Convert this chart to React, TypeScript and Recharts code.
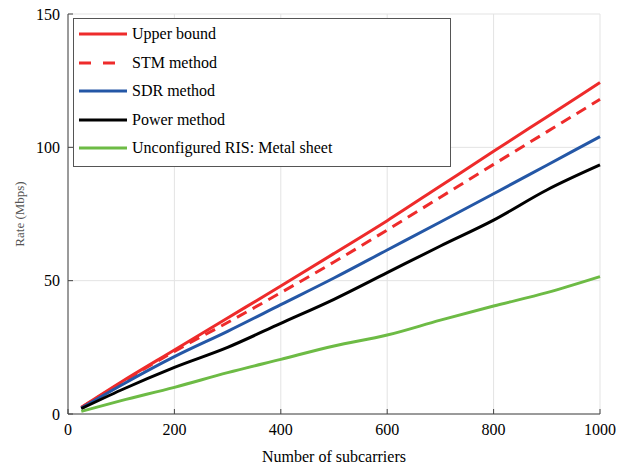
import React from 'react';
import { LineChart, Line, XAxis, YAxis, CartesianGrid, Legend } from 'recharts';

const subcarriers = [25, 100, 200, 300, 400, 500, 600, 700, 800, 900, 1000];
const upperBound = [2.5, 12, 24, 36, 48, 60.2, 72.5, 85.5, 98.5, 111.4, 124.3];
const stmMethod = [2.4, 11.7, 23.5, 34.3, 45.5, 57, 69, 81.3, 93.6, 105.8, 118];
const sdrMethod = [2.2, 10.8, 21.5, 31, 41, 51, 61.5, 72, 82.6, 93.3, 104];
const powerMethod = [2.0, 9.0, 17.5, 25, 34, 43, 53, 63, 72.7, 84, 93.4];
const metalSheet = [1.0, 5.0, 10.0, 15.5, 20.5, 25.5, 29.6, 35.2, 40.5, 45.5, 51.5];

const xTicks = [0, 200, 400, 600, 800, 1000];
const yTicks = [0, 50, 100, 150];

const seriesNames = ['Upper bound', 'STM method', 'SDR method', 'Power method', 'Unconfigured RIS: Metal sheet'];
const seriesKeys = ['ub', 'stm', 'sdr', 'pow', 'metal'];
const seriesColors = ['#ee2b2b', '#ee2b2b', '#2457a6', '#000000', '#6dbb45'];
const seriesDash = ['', '11 7', '', '', ''];

const data = subcarriers.map((x, i) => ({
  x,
  ub: upperBound[i],
  stm: stmMethod[i],
  sdr: sdrMethod[i],
  pow: powerMethod[i],
  metal: metalSheet[i],
}));

const FONT = '"Liberation Serif", "Times New Roman", serif';
const AXIS = '#444444';

const XTick = (props: any) => {
  const { x, y, payload } = props;
  return (
    <text x={x} y={y} dy="0.71em" textAnchor="middle" fill="#000" fontFamily={FONT} fontSize={16}>
      {payload.value}
    </text>
  );
};

const YTick = (props: any) => {
  const { x, y, payload } = props;
  return (
    <text x={x} y={y} dy="0.355em" textAnchor="end" fill="#000" fontFamily={FONT} fontSize={16}>
      {payload.value}
    </text>
  );
};

const LegendBox = () => (
  <div
    style={{
      width: 378,
      height: 149,
      border: '1px solid #555',
      background: '#fff',
      boxSizing: 'border-box',
      fontFamily: FONT,
      fontSize: 16,
      color: '#000',
      position: 'relative',
    }}
  >
    {seriesNames.map((name, i) => (
      <div
        key={name}
        style={{ position: 'absolute', left: 4, top: 15 + i * 28.5 - 10, height: 20, display: 'flex', alignItems: 'center' }}
      >
        <svg width={50} height={20} style={{ display: 'block' }}>
          <line
            x1={1}
            y1={10}
            x2={49}
            y2={10}
            stroke={seriesColors[i]}
            strokeWidth={3}
            strokeDasharray={seriesDash[i] ? '12 12' : undefined}
          />
        </svg>
        <span style={{ marginLeft: 4, whiteSpace: 'nowrap' }}>{name}</span>
      </div>
    ))}
  </div>
);

export default function App() {
  return (
    <div style={{ position: 'absolute', left: 0, top: 0, width: 617, height: 465, background: '#fff', fontFamily: FONT }}>
      <LineChart width={617} height={465} data={data} margin={{ top: 14, right: 17, bottom: 0, left: 0 }}>
        <CartesianGrid stroke="#e3e3e3" strokeWidth={1} />
        <XAxis
          dataKey="x"
          type="number"
          domain={[0, 1000]}
          ticks={xTicks}
          height={51}
          stroke={AXIS}
          tickSize={-5}
          tickMargin={15}
          tick={<XTick />}
          label={{
            content: (props: any) => {
              const vb = props.viewBox;
              return (
                <text x={vb.x + vb.width / 2} y={462} textAnchor="middle" fill="#000" fontFamily={FONT} fontSize={16}>
                  Number of subcarriers
                </text>
              );
            },
          }}
        />
        <XAxis
          xAxisId="top"
          orientation="top"
          dataKey="x"
          type="number"
          domain={[0, 1000]}
          ticks={xTicks}
          height={0}
          stroke={AXIS}
          tickSize={-5}
          tickFormatter={() => ''}
        />
        <YAxis
          type="number"
          domain={[0, 150]}
          ticks={yTicks}
          width={68}
          stroke={AXIS}
          tickSize={-5}
          tickMargin={13}
          tick={<YTick />}
          label={{
            content: (props: any) => {
              const vb = props.viewBox;
              const cy = vb.y + vb.height / 2;
              return (
                <text
                  x={24}
                  y={cy}
                  transform={`rotate(-90, 24, ${cy})`}
                  textAnchor="middle"
                  fill="#555"
                  fontFamily={FONT}
                  fontSize={13}
                >
                  Rate (Mbps)
                </text>
              );
            },
          }}
        />
        <YAxis
          yAxisId="right"
          orientation="right"
          type="number"
          domain={[0, 150]}
          ticks={yTicks}
          width={0}
          stroke={AXIS}
          tickSize={-5}
          tickFormatter={() => ''}
        />
        {seriesKeys.map((k, i) => (
          <Line
            key={k}
            dataKey={k}
            name={seriesNames[i]}
            type="monotone"
            stroke={seriesColors[i]}
            strokeWidth={3}
            strokeDasharray={seriesDash[i] || undefined}
            dot={false}
            activeDot={false}
            isAnimationActive={false}
          />
        ))}
        <Legend
          layout="horizontal"
          verticalAlign="middle"
          align="center"
          content={() => <LegendBox />}
          wrapperStyle={{ position: 'absolute', left: 73, top: 18, width: 378, height: 149 }}
        />
      </LineChart>
    </div>
  );
}
